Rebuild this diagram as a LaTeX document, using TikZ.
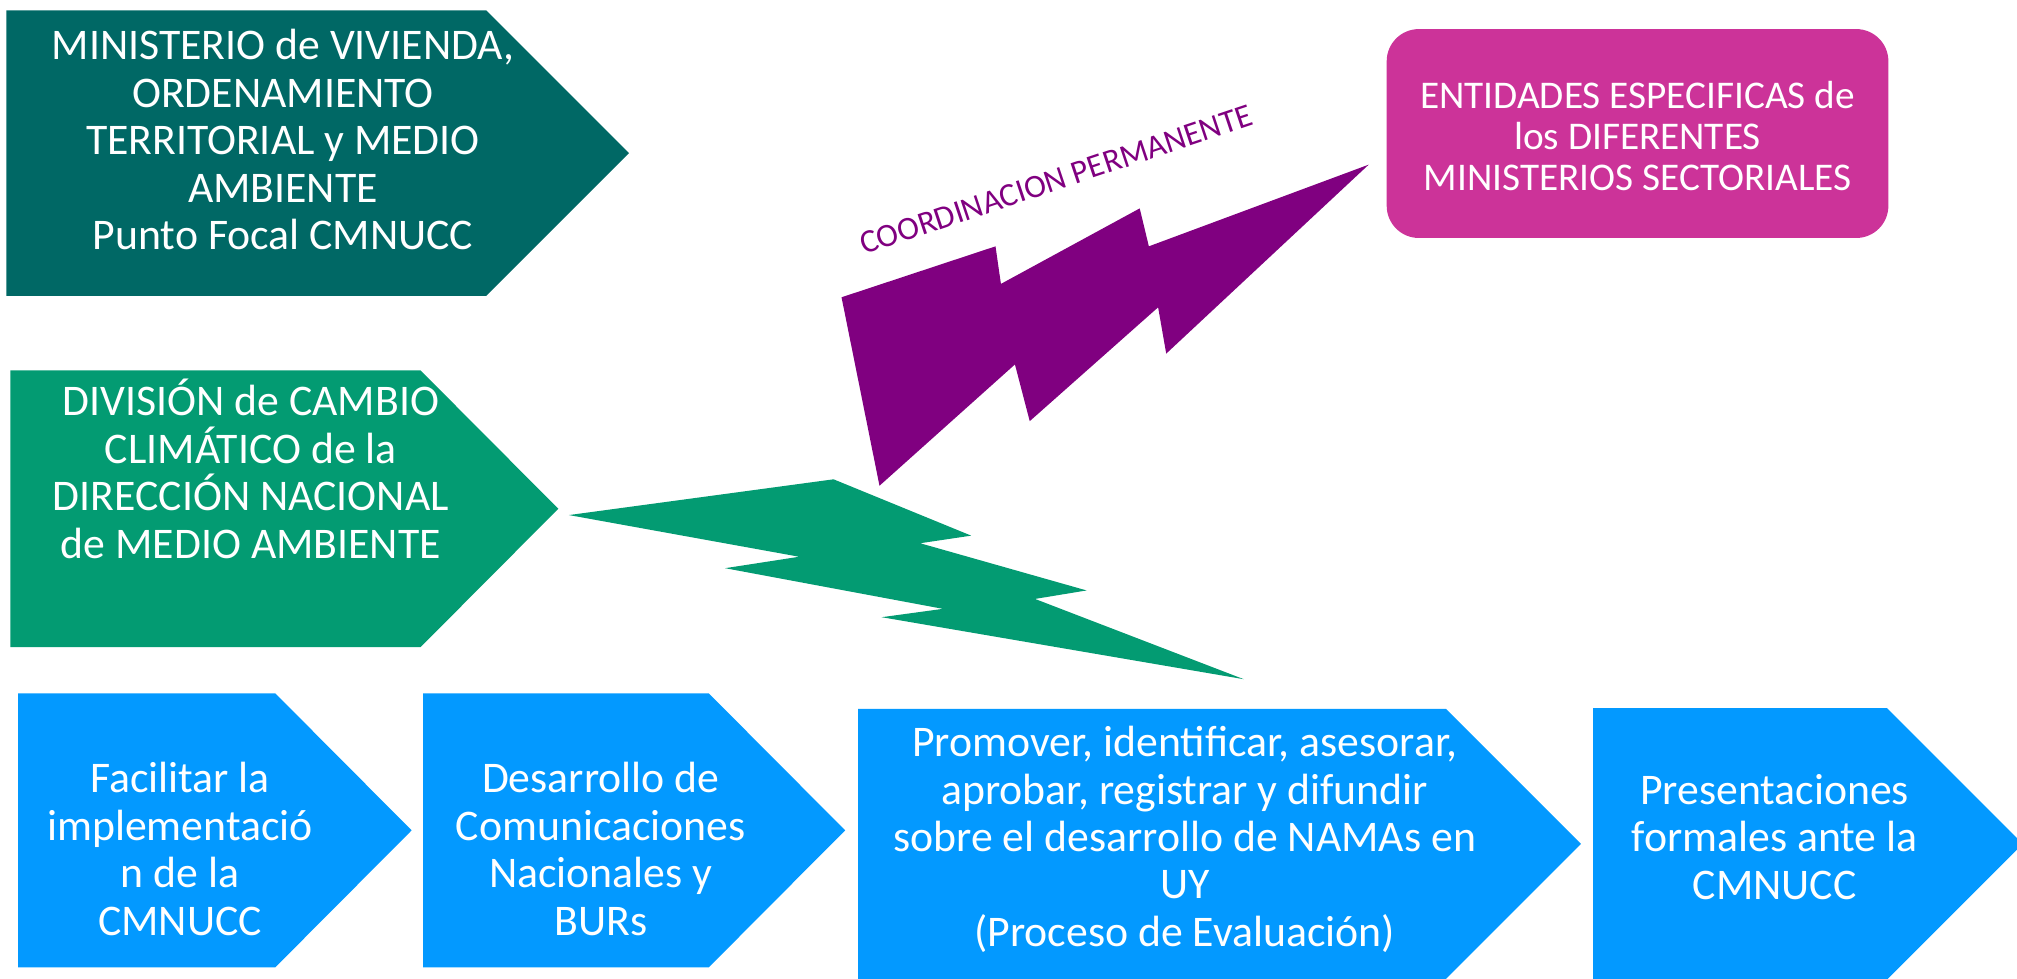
\documentclass[tikz,border=0pt]{standalone}
\usepackage{fontspec}
\setmainfont{Carlito}
\definecolor{tealbox}{HTML}{006865}
\definecolor{greenbox}{HTML}{039B72}
\definecolor{bluebox}{HTML}{0399FF}
\definecolor{pinkbox}{HTML}{CC3399}
\definecolor{purplebolt}{HTML}{800080}
\tikzset{
  boxtext/.style={text=white, align=center, inner sep=0pt, font=\fontsize{34}{36.9}\selectfont},
  pinktext/.style={text=white, align=center, inner sep=0pt, font=\fontsize{30.5}{32}\selectfont},
}
\begin{document}
\begin{tikzpicture}[x=1pt,y=-1pt]
\useasboundingbox (0,0) rectangle (1568,761);
% chevrons
\fill[tealbox]  (5,8) -- (378,8) -- (489,119) -- (378,230) -- (5,230) -- cycle;
\fill[greenbox] (8,288) -- (327,288) -- (434,395.5) -- (327,503) -- (8,503) -- cycle;
\fill[bluebox]  (14,539) -- (214,539) -- (320,645.5) -- (214,752) -- (14,752) -- cycle;
\fill[bluebox]  (329,539) -- (551,539) -- (657,645.5) -- (551,752) -- (329,752) -- cycle;
\fill[bluebox]  (667,551) -- (1124,551) -- (1229,656) -- (1124,761) -- (667,761) -- cycle;
\fill[bluebox]  (1238.5,550.5) -- (1467,550.5) -- (1572.5,656) -- (1467,761.5) -- (1238.5,761.5) -- cycle;
\fill[pinkbox, rounded corners=25pt] (1078,22.6) rectangle (1468,185);
% bolts
\fill[greenbox] (442.3,400.4) -- (648,372.6) -- (755,416.4) -- (715.3,422.3) -- (844.7,459)
  -- (804.6,465.6) -- (966.9,528) -- (685.4,479.8) -- (733,473.3) -- (563.7,441.7)
  -- (621.3,432.8) -- cycle;
\fill[purplebolt] (654.2,231.1) -- (773.9,191.5) -- (778.1,220.7) -- (886,162) -- (893.1,191.5)
  -- (1064,128) -- (906.6,274.9) -- (900.3,238.9) -- (800.5,327.4) -- (789,283.3)
  -- (683.7,377.6) -- cycle;
% texts
\node[boxtext] (mvot) at (220,108.5) {MINISTERIO de VIVIENDA,\\ORDENAMIENTO\\TERRITORIAL y MEDIO\\AMBIENTE\\Punto Focal CMNUCC};
\node[boxtext] (dcc) at (195,364.5) {DIVISIÓN de CAMBIO\\CLIMÁTICO de la\\DIRECCIÓN NACIONAL\\de MEDIO AMBIENTE};
\node[boxtext] (fac) at (140,660) {Facilitar la\\implementació\\n de la\\CMNUCC};
\node[boxtext] (des) at (467,660) {Desarrollo de\\Comunicaciones\\Nacionales y\\BURs};
\node[boxtext] (pro) at (921,652.5) {Promover, identificar, asesorar,\\aprobar, registrar y difundir\\sobre el desarrollo de NAMAs en\\UY\\(Proceso de Evaluación)};
\node[boxtext] (pre) at (1379.5,650.5) {Presentaciones\\formales ante la\\CMNUCC};
\node[pinktext] (ent) at (1273,105.5) {ENTIDADES ESPECIFICAS de\\los DIFERENTES\\MINISTERIOS SECTORIALES};
\node[text=purplebolt, inner sep=0pt, anchor=base, rotate=18.5, font=\fontsize{25.5}{30}\selectfont] (coord) at (823.6,147.5) {COORDINACION PERMANENTE};
\end{tikzpicture}
\end{document}
